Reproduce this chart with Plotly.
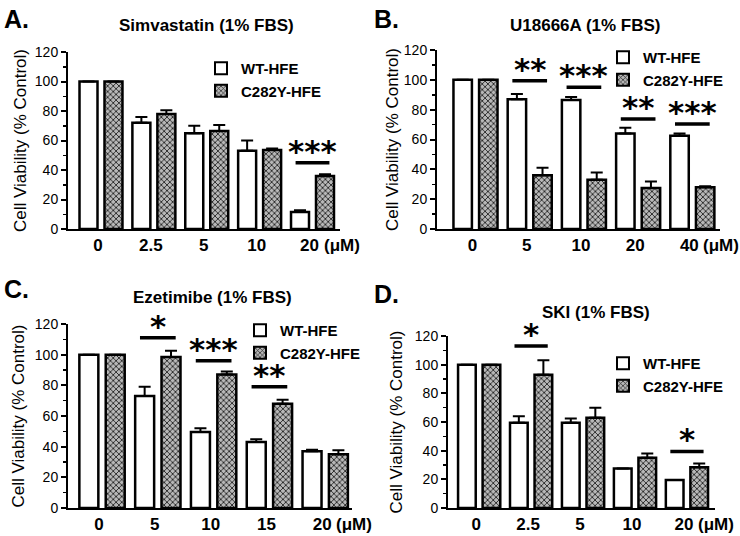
import plotly.graph_objects as go

# ---------------- data ----------------
series_names = ["WT-HFE", "C282Y-HFE"]

a_title = "Simvastatin (1% FBS)"
a_doses = ["0", "2.5", "5", "10", "20"]
a_wt = [100, 72, 65, 53, 11.5]
a_wt_err = [0, 4, 5, 7, 1.2]
a_mut = [100, 78, 66.5, 53.5, 36]
a_mut_err = [0, 2.5, 4, 1, 1.2]
a_sig = [(4, "***", 45)]

b_title = "U18666A (1% FBS)"
b_doses = ["0", "5", "10", "20", "40"]
b_wt = [100, 87, 86.5, 64, 62.5]
b_wt_err = [0, 3.5, 2, 3.8, 1.5]
b_mut = [100, 36, 33, 27.5, 28]
b_mut_err = [0, 5, 4.8, 4.4, 0.6]
b_sig = [(1, "**", 99.4), (2, "***", 95), (3, "**", 73.7), (4, "***", 70.4)]

c_title = "Ezetimibe (1% FBS)"
c_doses = ["0", "5", "10", "15", "20"]
c_wt = [100, 73, 49.5, 43, 37]
c_wt_err = [0, 6, 2.5, 1.8, 1]
c_mut = [100, 98.5, 87, 68, 35]
c_mut_err = [0, 4, 2, 2.6, 2.7]
c_sig = [(1, "*", 111), (2, "***", 96), (3, "**", 79)]

d_title = "SKI (1% FBS)"
d_doses = ["0", "2.5", "5", "10", "20"]
d_wt = [100, 59.5, 59.5, 27.5, 19.5]
d_wt_err = [0, 4.5, 3, 0, 0]
d_mut = [100, 93, 63, 35, 28.5]
d_mut_err = [0, 10, 7, 3, 2.5]
d_sig = [(1, "*", 113), (4, "*", 39.5)]

y_label = "Cell Viability (% Control)"
unit_label = "(μM)"

# ---------------- layout geometry (pixels) ----------------
W, H = 740, 536
FONT = "Liberation Sans"

panels = [
    dict(letter="A.", title=a_title, doses=a_doses, wt=a_wt, wte=a_wt_err, mut=a_mut, mute=a_mut_err, sig=a_sig,
         px=(68, 340), py=(229, 52), xr=(-0.624, 4.52), title_xy=(206, 25), letter_xy=(2, 3),
         legend_xy=(201, 52), standoff=4),
    dict(letter="B.", title=b_title, doses=b_doses, wt=b_wt, wte=b_wt_err, mut=b_mut, mute=b_mut_err, sig=b_sig,
         px=(437, 720), py=(229, 50), xr=(-0.71, 4.51), title_xy=(585, 25), letter_xy=(372, 3),
         legend_xy=(603, 41), standoff=1),
    dict(letter="C.", title=c_title, doses=c_doses, wt=c_wt, wte=c_wt_err, mut=c_mut, mute=c_mut_err, sig=c_sig,
         px=(68, 352), py=(508, 324), xr=(-0.61, 4.48), title_xy=(212, 297), letter_xy=(2, 273),
         legend_xy=(240, 314), standoff=6),
    dict(letter="D.", title=d_title, doses=d_doses, wt=d_wt, wte=d_wt_err, mut=d_mut, mute=d_mut_err, sig=d_sig,
         px=(448, 715), py=(508, 336), xr=(-0.6, 4.54), title_xy=(596, 312), letter_xy=(372, 278),
         legend_xy=(603, 347), standoff=8),
]

fig = go.Figure()
annotations = []
shapes = []
layout_extra = {}

for i, p in enumerate(panels):
    n = "" if i == 0 else str(i + 1)
    xa, ya = "x" + n, "y" + n
    leg = "legend" + n
    fig.add_trace(go.Bar(
        x=p["doses"], y=p["wt"], name=series_names[0], xaxis=xa, yaxis=ya, legend=leg,
        marker=dict(color="white", line=dict(color="black", width=2.5)),
        error_y=dict(type="data", symmetric=False, array=p["wte"], arrayminus=[0] * len(p["wte"]),
                     color="black", thickness=2, width=6),
    ))
    fig.add_trace(go.Bar(
        x=p["doses"], y=p["mut"], name=series_names[1], xaxis=xa, yaxis=ya, legend=leg,
        marker=dict(color="#aaaaaa", line=dict(color="black", width=2.5),
                    pattern=dict(shape="x", size=4, solidity=0.4, fgcolor="#252525", bgcolor="#b8b8b8",
                                 fillmode="replace")),
        error_y=dict(type="data", symmetric=False, array=p["mute"], arrayminus=[0] * len(p["mute"]),
                     color="black", thickness=2, width=6),
    ))
    x0, x1 = p["px"]
    yb, yt = p["py"]
    layout_extra["xaxis" + n] = dict(
        domain=[x0 / W, x1 / W], anchor=ya, type="category", range=list(p["xr"]), automargin=False,
        showline=True, linecolor="black", linewidth=2, ticks="", showgrid=False, zeroline=False,
        tickfont=dict(family=FONT, size=17, color="black", weight="bold"), ticklabelshift=-3,
        fixedrange=True,
    )
    layout_extra["yaxis" + n] = dict(
        domain=[1 - yb / H, 1 - yt / H], anchor=xa, range=[0, 120], dtick=20, automargin=False,
        showline=True, linecolor="black", linewidth=2, ticks="outside", ticklen=5, tickwidth=2,
        tickcolor="black", showgrid=False, zeroline=False,
        minor=dict(dtick=10, ticks="outside", ticklen=3, tickwidth=1.5, tickcolor="black"),
        tickfont=dict(family=FONT, size=14, color="black"),
        title=dict(text=y_label, font=dict(family=FONT, size=17, color="black"), standoff=p["standoff"]),
        fixedrange=True,
    )
    lx, ly = p["legend_xy"]
    layout_extra[leg] = dict(
        x=lx / W, y=1 - ly / H, xanchor="left", yanchor="top", bgcolor="rgba(0,0,0,0)",
        font=dict(family=FONT, size=15, color="black", weight="bold"), tracegroupgap=0,
        itemsizing="constant",
    )
    # panel letter and title
    annotations.append(dict(text="<b>%s</b>" % p["letter"], xref="paper", yref="paper",
                            x=p["letter_xy"][0] / W, y=1 - p["letter_xy"][1] / H, xanchor="left", yanchor="top",
                            showarrow=False, font=dict(family=FONT, size=25, color="black")))
    annotations.append(dict(text="<b>%s</b>" % p["title"], xref="paper", yref="paper",
                            x=p["title_xy"][0] / W, y=1 - p["title_xy"][1] / H, xanchor="center",
                            yanchor="middle", showarrow=False, font=dict(family=FONT, size=17, color="black")))
    # unit label next to last tick label
    annotations.append(dict(text="<b>%s</b>" % unit_label, xref=xa, yref=ya + " domain",
                            x=len(p["doses"]) - 1, y=0, xanchor="left", yanchor="top", xshift=9, yshift=-5,
                            showarrow=False, font=dict(family=FONT, size=17, color="black")))
    # significance markers
    for g, stars, ylev in p["sig"]:
        shapes.append(dict(type="line", xref=xa, yref=ya, x0=g - 0.32, x1=g + 0.32, y0=ylev, y1=ylev,
                           line=dict(color="black", width=3.5)))
        annotations.append(dict(text=stars, xref=xa, yref=ya, x=g, y=ylev, xanchor="center", yanchor="bottom",
                                yshift=-8, showarrow=False,
                                font=dict(family="DejaVu Sans", size=31, color="black", weight="bold")))

fig.update_layout(
    template="none",
    width=W, height=H, margin=dict(l=0, r=0, t=0, b=0, pad=0, autoexpand=False),
    paper_bgcolor="white", plot_bgcolor="white",
    barmode="group", bargap=0.055, bargroupgap=0.28,
    annotations=annotations, shapes=shapes,
    font=dict(family=FONT, color="black"),
    **layout_extra,
)

fig.write_html("out.html", config={"displayModeBar": False, "staticPlot": True},
               post_script="document.body.style.margin='0';document.body.style.overflow='hidden';")
